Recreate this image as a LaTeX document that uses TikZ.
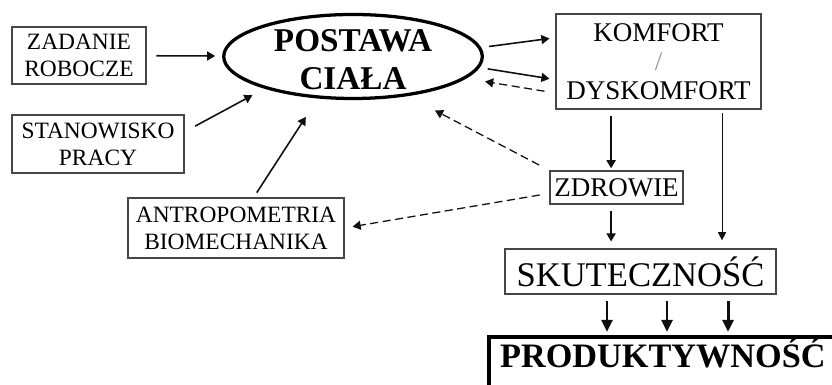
\documentclass[tikz,border=0pt]{standalone}
\usepackage{fontspec}
\setmainfont{Liberation Serif}
\usetikzlibrary{shapes.geometric, arrows.meta, positioning}
\definecolor{mydark}{RGB}{15,15,15}
\definecolor{myframe}{RGB}{70,70,70}
\definecolor{myslash}{RGB}{150,150,150}
\tikzset{
  smallbox/.style={rectangle, draw=myframe, line width=1.1pt, align=center,
    inner sep=2pt, font=\fontsize{22.2}{25.5}\selectfont},
  midbox/.style={rectangle, draw=myframe, line width=1.1pt, align=center,
    inner sep=2pt, font=\fontsize{25.6}{27.5}\selectfont},
  bigbox/.style={rectangle, draw=myframe, line width=1.1pt, align=center,
    inner sep=2pt, font=\fontsize{32.8}{36}\selectfont},
  mainoval/.style={ellipse, draw=black, line width=3.1pt,
    inner sep=0pt, font=\bfseries\fontsize{31.5}{36}\selectfont},
  prodbox/.style={rectangle, draw=black, line width=3.8pt, anchor=north west,
    inner xsep=0.37cm, inner ysep=0pt, text height=1.03cm, text depth=1.5cm,
    text width=12cm, align=left, font=\bfseries\fontsize{32.5}{36}\selectfont},
  arrow/.style={-{Triangle[length=0.27cm, width=0.3cm]}, line width=1.5pt, color=mydark},
  thinarrow/.style={-{Triangle[length=0.27cm, width=0.27cm]}, line width=1pt, color=mydark},
  dasharrow/.style={arrow, line width=1.2pt, dash pattern=on 0.27cm off 0.15cm},
  bigarrow/.style={-{Triangle[length=0.4cm, width=0.36cm]}, line width=2.8pt, color=mydark}
}

\begin{document}
\begin{tikzpicture}
  \useasboundingbox (0,0) rectangle (27.733,12.833);
  \clip (0,0) rectangle (27.733,12.833);

  % Boxes
  \node[smallbox, minimum width=4.467cm, minimum height=1.9cm] (zad) at (2.633,10.983) {ZADANIE\\ROBOCZE};
  \node[smallbox, minimum width=5.733cm, minimum height=1.933cm] (stan) at (3.267,8.033) {STANOWISKO\\PRACY};
  \node[smallbox, minimum width=7.2cm, minimum height=2cm] (antr) at (7.867,5.233) {ANTROPOMETRIA\\BIOMECHANIKA};
  \node[mainoval, minimum width=8.62cm, minimum height=2.8cm] (post) at (11.767,10.95)
    {\raisebox{-12.5pt}[0pt][0pt]{\begin{tabular}{@{}c@{}}POSTAWA\\CIAŁA\end{tabular}}};
  \node[midbox, minimum width=6.833cm, minimum height=3.167cm] (komf) at (21.95,10.783) {KOMFORT\\{\color{myslash}/}\\DYSKOMFORT};
  \node[midbox, minimum width=4.433cm, minimum height=1.1cm] (zdr) at (20.55,6.583) {ZDROWIE};
  \node[bigbox, minimum width=9.033cm, minimum height=1.5cm] (skut) at (21.35,3.783) {SKUTECZNOŚĆ};
  \node[prodbox] (prod) at (16.233,1.667) {PRODUKTYWNOŚĆ};

  % Inputs to posture
  \draw[arrow, shorten <=0.33cm, shorten >=0.23cm] (zad) -- (post);
  \draw[arrow, shorten <=0.4cm, shorten >=0.46cm] (stan.8) -- (post.200);
  \draw[arrow, shorten <=0.19cm, shorten >=0.73cm] (antr.60) -- (post.230);

  % Posture and comfort
  \draw[arrow, shorten <=0.27cm, shorten >=0.2cm] (post.4) -- (komf.167);
  \draw[arrow, shorten <=0.27cm, shorten >=0.2cm] (post.-5) -- (komf.190);
  \draw[dasharrow, shorten <=0.37cm, shorten >=0.64cm] (komf.197) -- (post.-11);

  % Feedback from health
  \draw[dasharrow, shorten <=0.39cm, shorten >=1.03cm] (zdr.north west) -- (post.-36);
  \draw[dasharrow, shorten <=0.33cm, shorten >=0.27cm] (zdr.185) -- (antr.east);

  % Down the right side
  \coordinate (zdrin) at ([xshift=-0.18cm]zdr.north);
  \coordinate (komfout) at ([xshift=2.117cm]komf.south);
  \draw[arrow, line width=1.8pt, shorten <=0.2cm, shorten >=0.07cm] (zdrin |- komf.south) -- (zdrin);
  \draw[arrow, shorten <=0.2cm, shorten >=0.23cm] (zdrin |- zdr.south) -- (zdrin |- skut.north);
  \draw[thinarrow, shorten <=0.13cm, shorten >=0.27cm] (komfout) -- (komfout |- skut.north);

  % Efficiency to productivity
  \foreach \dx [count=\i] in {-1.117, 0.883, 2.917} {
    \coordinate (s\i) at ([xshift=\dx cm]skut.south);
    \draw[bigarrow, shorten <=0.2cm, shorten >=0.1cm] (s\i) -- (s\i |- prod.north);
  }
\end{tikzpicture}
\end{document}
